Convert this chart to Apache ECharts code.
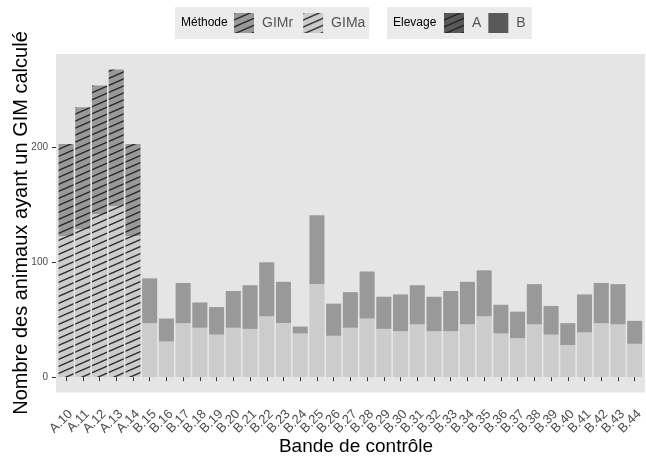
<!DOCTYPE html>
<html>
<head>
<meta charset="utf-8">
<script src="https://cdn.jsdelivr.net/npm/echarts@6/dist/echarts.min.js"></script>
<style>
html,body{margin:0;padding:0;background:#fff;}
#chart{width:646px;height:457px;}
</style>
</head>
<body>
<div id="chart"></div>
<script>
// ---- data ----
const categories = ['A.10','A.11','A.12','A.13','A.14',
  'B.15','B.16','B.17','B.18','B.19','B.20','B.21','B.22','B.23','B.24',
  'B.25','B.26','B.27','B.28','B.29','B.30','B.31','B.32','B.33','B.34',
  'B.35','B.36','B.37','B.38','B.39','B.40','B.41','B.42','B.43','B.44'];
const elevage = ['A','A','A','A','A',
  'B','B','B','B','B','B','B','B','B','B',
  'B','B','B','B','B','B','B','B','B','B',
  'B','B','B','B','B','B','B','B','B','B'];
const gimA = [123,129,142,149,123, 47,31,47,43,37,43,42,53,47,38, 81,36,43,51,42,40,46,40,40,46, 53,38,34,46,37,28,39,47,46,29];
const gimR = [80,106,112,119,80, 39,20,35,22,24,32,38,47,36,6, 60,28,31,41,28,32,34,30,35,37, 40,25,23,35,25,19,33,35,35,20];
const yTicks = [0,100,200];
const methodes = ['GIMr','GIMa'];
const elevages = ['A','B'];

// ---- styles ----
function hatch(base){
  const w = 16, h = 7;
  const c = document.createElement('canvas');
  c.width = w; c.height = h;
  const ctx = c.getContext('2d');
  ctx.fillStyle = base;
  ctx.fillRect(0,0,w,h);
  ctx.strokeStyle = 'rgba(35,35,35,0.95)';
  ctx.lineWidth = 1.4;
  for (const off of [-h, 0, h]) {
    ctx.beginPath();
    ctx.moveTo(0, h + off);
    ctx.lineTo(w, off);
    ctx.stroke();
  }
  return {image: c, repeat: 'repeat'};
}
const colLight = '#cccccc', colDark = '#999999', colElev = '#595959';

const chart = echarts.init(document.getElementById('chart'), null, {renderer:'canvas'});
const option = {
  animation: false,
  textStyle: {fontFamily: 'Liberation Sans'},
  grid: {left: 57.7, right: 2.7, top: 54, bottom: 64.5},
  graphic: [
    {type:'rect', z:-10, shape:{x:56, y:54, width:589, height:338.5}, style:{fill:'#e5e5e5'}},
    {type:'text', z:100, x:21, y:223, rotation:Math.PI/2,
      style:{text:'Nombre des animaux ayant un GIM calculé', fontSize:20, fontFamily:'Liberation Sans', fill:'#000', align:'center', verticalAlign:'middle'}},
    {type:'text', z:100, x:356, y:447,
      style:{text:'Bande de contrôle', fontSize:19, fontFamily:'Liberation Sans', fill:'#000', align:'center', verticalAlign:'middle'}},
    {type:'text', z:100, x:181, y:23,
      style:{text:'Méthode', fontSize:12, fontFamily:'Liberation Sans', fill:'#000', align:'left', verticalAlign:'middle'}},
    {type:'text', z:100, x:393, y:23,
      style:{text:'Elevage', fontSize:12, fontFamily:'Liberation Sans', fill:'#000', align:'left', verticalAlign:'middle'}}
  ],
  legend: [
    {left:175, top:7, orient:'horizontal', backgroundColor:'#ebebeb', padding:[6,4,6,59],
      itemWidth:20, itemHeight:20, itemGap:10, selectedMode:false,
      textStyle:{fontSize:14, color:'#555', padding:[0,0,0,3]},
      data:[{name:methodes[0], icon:'rect', itemStyle:{color:hatch(colDark)}},
            {name:methodes[1], icon:'rect', itemStyle:{color:hatch(colLight)}}]},
    {left:387, top:7, orient:'horizontal', backgroundColor:'#ebebeb', padding:[6,6,6,57],
      itemWidth:20, itemHeight:20, itemGap:7, selectedMode:false,
      textStyle:{fontSize:14, color:'#555', padding:[0,0,0,3]},
      data:[{name:elevages[0], icon:'rect', itemStyle:{color:hatch(colElev)}},
            {name:elevages[1], icon:'rect', itemStyle:{color:colElev}}]}
  ],
  xAxis: {
    type:'category', data:categories,
    axisLine:{show:false},
    axisTick:{show:true, alignWithLabel:true, length:4, lineStyle:{color:'#333'}},
    axisLabel:{rotate:45, interval:0, fontSize:13, color:'#4d4d4d', margin:15, verticalAlign:'top'}
  },
  yAxis: {
    type:'value', min:-13.4, max:281.4, offset:1.7,
    splitLine:{show:false}, axisLine:{show:false},
    axisTick:{show:true, length:4, lineStyle:{color:'#333'}, customValues:yTicks},
    axisLabel:{customValues:yTicks, fontSize:10, color:'#4d4d4d', margin:8}
  },
  series: [
    {name:'GIMa', type:'bar', stack:'total', barCategoryGap:'10%',
      itemStyle:{color:colLight, borderWidth:0},
      data: gimA.map((v,i)=> elevage[i]==='A' ? {value:v, itemStyle:{color:hatch(colLight)}} : v)},
    {name:'GIMr', type:'bar', stack:'total', barCategoryGap:'10%',
      itemStyle:{color:colDark, borderWidth:0},
      data: gimR.map((v,i)=> elevage[i]==='A' ? {value:v, itemStyle:{color:hatch(colDark)}} : v)},
    {name:'A', type:'bar', stack:'total', itemStyle:{color:colElev}, data:[]},
    {name:'B', type:'bar', stack:'total', itemStyle:{color:colElev}, data:[]}
  ]
};
chart.setOption(option);
</script>
</body>
</html>
